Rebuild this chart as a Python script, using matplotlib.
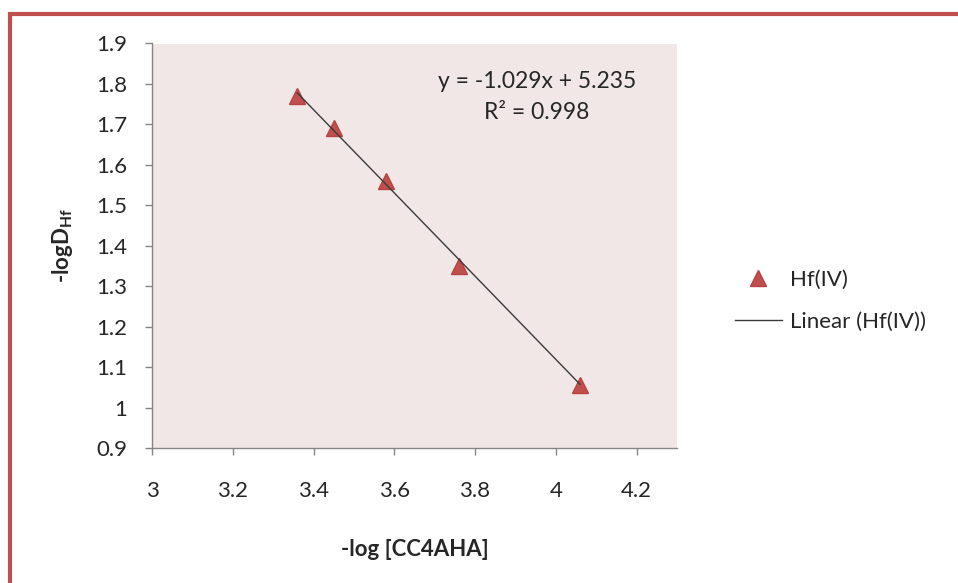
import matplotlib
matplotlib.use("Agg")
import matplotlib.pyplot as plt
from matplotlib.patches import Rectangle
import numpy as np

# Data
x_vals = [3.36, 3.45, 3.58, 3.76, 4.06]
y_vals = [1.77, 1.69, 1.56, 1.35, 1.055]
slope = -1.029
intercept = 5.235
eq_text = "y = -1.029x + 5.235"
r2_text = "R² = 0.998"
x_ticks = [3, 3.2, 3.4, 3.6, 3.8, 4, 4.2]
x_ticklabels = ["3", "3.2", "3.4", "3.6", "3.8", "4", "4.2"]
y_ticks = [0.9, 1.0, 1.1, 1.2, 1.3, 1.4, 1.5, 1.6, 1.7, 1.8, 1.9]
y_ticklabels = ["0.9", "1", "1.1", "1.2", "1.3", "1.4", "1.5", "1.6", "1.7", "1.8", "1.9"]
series_label = "Hf(IV)"
trend_label = "Linear (Hf(IV))"
x_title = "-log [CC4AHA]"
y_title = r"-logD$_{\mathbf{Hf}}$"

plt.rcParams['font.family'] = ['Lato', 'DejaVu Sans']
plt.rcParams['mathtext.fontset'] = 'custom'
plt.rcParams['mathtext.rm'] = 'Lato'
plt.rcParams['mathtext.bf'] = 'Lato:bold'

W, H = 958, 583
fig = plt.figure(figsize=(W / 100, H / 100), dpi=100)
fig.patch.set_facecolor('white')

# red frame
frame = Rectangle((9.5 / W, -0.1), 1.2, (H - 14) / H + 0.1, transform=fig.transFigure,
                  fill=False, edgecolor='#C0504D', linewidth=3.0, zorder=0)
fig.patches.append(frame)

left, right, top, bottom = 152, 677, 43.5, 448
ax = fig.add_axes([left / W, 1 - bottom / H, (right - left) / W, (bottom - top) / H])
ax.set_facecolor('#F2E7E7')

txt = '#262626'
axis_col = '#868686'
fs = 16

ax.plot(x_vals, y_vals, linestyle='none', marker='^', markersize=12,
        color='#C0504D', markeredgecolor='#B8423F', label=series_label, zorder=3)
xl = np.array([min(x_vals), max(x_vals)])
ax.plot(xl, slope * xl + intercept, color='#3a3a3a', linewidth=1.0,
        label=trend_label, zorder=4)

ax.set_xlim(3, 4.3)
ax.set_ylim(0.9, 1.9)
ax.set_xticks(x_ticks)
ax.set_xticklabels(x_ticklabels)
ax.set_yticks(y_ticks)
ax.set_yticklabels(y_ticklabels)
for s in ['top', 'right']:
    ax.spines[s].set_visible(False)
for s in ['left', 'bottom']:
    ax.spines[s].set_color(axis_col)
    ax.spines[s].set_linewidth(1.0)
ax.tick_params(axis='both', direction='out', length=5, width=1.0, color=axis_col,
               labelsize=fs, labelcolor=txt)
ax.tick_params(axis='x', pad=19)
ax.tick_params(axis='y', pad=13)

ax.set_xlabel(x_title, fontsize=fs, fontweight='bold', color=txt)
ax.set_ylabel(y_title, fontsize=fs, fontweight='bold', color=txt)
ax.xaxis.label.set_va('center')
ax.yaxis.label.set_va('center')
ax.xaxis.set_label_coords(0.5, -(550 - bottom) / (bottom - top))
ax.yaxis.set_label_coords((62 - left) / (right - left), 0.5)

ax.text(537 / W, 1 - 82 / H, eq_text, transform=fig.transFigure, ha='center', va='center',
        fontsize=16.5, color=txt)
ax.text(537 / W, 1 - 113 / H, r2_text, transform=fig.transFigure, ha='center', va='center',
        fontsize=16.5, color=txt)

leg = ax.legend(loc='center left', bbox_to_anchor=(735 / W, 1 - 301 / H),
                bbox_transform=fig.transFigure, frameon=False, fontsize=fs,
                handlelength=2.1, handletextpad=0.36, labelspacing=1.0,
                borderpad=0, borderaxespad=0)
for t in leg.get_texts():
    t.set_color(txt)

fig.savefig('out.png', dpi=100, facecolor='white')
